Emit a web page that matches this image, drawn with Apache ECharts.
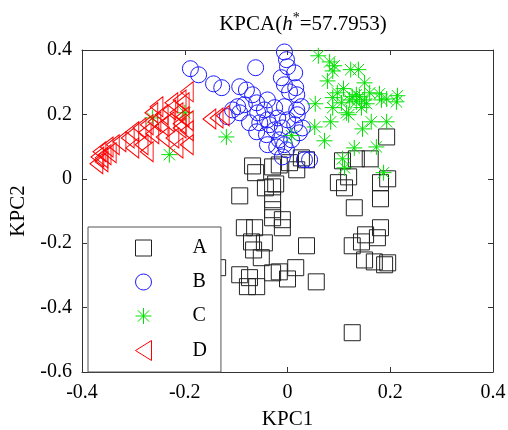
<!DOCTYPE html>
<html>
<head>
<meta charset="utf-8">
<script src="https://cdn.jsdelivr.net/npm/echarts@6/dist/echarts.min.js"></script>
<style>
  html, body { margin: 0; padding: 0; background: #fff; }
  #chart { width: 508px; height: 430px; }
</style>
</head>
<body>
<div id="chart"></div>
<script>
// KPC1 / KPC2 scores
const groupA = [
    [-0.068, 0.040], [-0.062, 0.019], [-0.029, 0.037], [-0.016, 0.043], [0.004, 0.050],
    [0.018, 0.028], [0.027, 0.065], [0.037, 0.059], [-0.093, -0.053], [-0.043, -0.028],
    [-0.029, -0.025], [-0.023, -0.016], [-0.029, -0.065], [-0.029, -0.096], [-0.029, -0.121],
    [-0.010, -0.127], [-0.010, -0.152], [-0.084, -0.152], [-0.064, -0.152], [-0.070, -0.196],
    [-0.066, -0.221], [-0.051, -0.245], [-0.045, -0.199], [0.037, -0.208], [-0.136, -0.276],
    [-0.093, -0.298], [-0.074, -0.307], [-0.060, -0.335], [-0.078, -0.335], [-0.029, -0.292],
    [-0.016, -0.289], [0.000, -0.311], [0.016, -0.276], [0.056, -0.320], [0.193, 0.130],
    [0.107, 0.056], [0.134, 0.062], [0.161, 0.062], [0.099, -0.012], [0.111, -0.028],
    [0.119, 0.006], [0.181, -0.012], [0.195, 0.000], [0.181, -0.062], [0.130, -0.090],
    [0.181, -0.152], [0.152, -0.174], [0.144, -0.196], [0.126, -0.208], [0.175, -0.183],
    [0.150, -0.252], [0.169, -0.258], [0.189, -0.267], [0.195, -0.261], [0.126, -0.478]
];
const groupB = [
    [-0.189, 0.342], [-0.173, 0.323], [-0.062, 0.345], [-0.006, 0.394], [-0.002, 0.370],
    [0.000, 0.348], [-0.144, 0.295], [-0.128, 0.283], [-0.093, 0.286], [-0.080, 0.276],
    [-0.068, 0.261], [-0.012, 0.314], [0.014, 0.329], [-0.006, 0.292], [0.004, 0.270],
    [0.016, 0.283], [-0.097, 0.224], [-0.117, 0.193], [-0.084, 0.230], [-0.060, 0.236],
    [-0.039, 0.245], [-0.025, 0.221], [-0.006, 0.224], [0.018, 0.214], [0.027, 0.224],
    [-0.058, 0.205], [-0.074, 0.174], [-0.054, 0.174], [-0.039, 0.183], [-0.019, 0.189],
    [0.000, 0.183], [0.019, 0.199], [-0.060, 0.146], [-0.041, 0.137], [-0.025, 0.152],
    [-0.010, 0.158], [0.014, 0.168], [0.029, 0.158], [-0.039, 0.106], [-0.021, 0.099],
    [-0.006, 0.106], [0.008, 0.121], [-0.016, 0.121], [-0.107, 0.214], [-0.093, 0.205],
    [0.018, 0.261], [0.023, 0.143], [0.033, 0.059], [0.043, 0.059], [-0.002, 0.090],
    [-0.010, 0.068], [-0.045, 0.214], [-0.035, 0.168]
];
const groupC = [
    [0.060, 0.382], [0.082, 0.363], [0.091, 0.351], [0.088, 0.335], [0.123, 0.339],
    [0.138, 0.339], [0.078, 0.304], [0.150, 0.298], [0.109, 0.280], [0.097, 0.267],
    [0.134, 0.261], [0.160, 0.267], [0.179, 0.264], [0.193, 0.248], [0.214, 0.258],
    [0.212, 0.239], [0.183, 0.245], [0.126, 0.255], [0.134, 0.239], [0.144, 0.221],
    [0.154, 0.233], [0.121, 0.245], [0.105, 0.236], [0.088, 0.252], [0.088, 0.221],
    [0.115, 0.205], [0.054, 0.233], [0.084, 0.177], [0.119, 0.199], [0.193, 0.177],
    [0.163, 0.177], [0.146, 0.155], [0.053, 0.161], [0.072, 0.118], [0.130, 0.096],
    [0.173, 0.099], [0.107, 0.062], [0.111, 0.034], [0.187, 0.019], [0.008, 0.134],
    [-0.263, 0.189], [-0.200, 0.205], [-0.230, 0.075], [-0.119, 0.130], [0.140, 0.255],
    [0.150, 0.245]
];
const groupD = [
    [-0.196, 0.270], [-0.210, 0.245], [-0.226, 0.236], [-0.255, 0.224], [-0.265, 0.205],
    [-0.245, 0.199], [-0.230, 0.214], [-0.216, 0.205], [-0.204, 0.193], [-0.196, 0.180],
    [-0.210, 0.171], [-0.233, 0.177], [-0.245, 0.165], [-0.259, 0.177], [-0.274, 0.168],
    [-0.288, 0.158], [-0.302, 0.146], [-0.278, 0.143], [-0.263, 0.140], [-0.243, 0.130],
    [-0.224, 0.127], [-0.196, 0.106], [-0.216, 0.096], [-0.284, 0.106], [-0.274, 0.084],
    [-0.302, 0.096], [-0.327, 0.115], [-0.340, 0.106], [-0.352, 0.099], [-0.366, 0.084],
    [-0.370, 0.068], [-0.362, 0.065], [-0.356, 0.075], [-0.346, 0.081], [-0.362, 0.053],
    [-0.372, 0.047], [-0.152, 0.186], [-0.138, 0.189], [-0.126, 0.196], [-0.210, 0.158],
    [-0.196, 0.149], [-0.204, 0.236], [-0.311, 0.127]
];
const groupNames = ['A', 'B', 'C', 'D'];
const xTicks = [-0.4, 0.2, 0.4];  // min, step, max
const yTicks = [-0.6, 0.2, 0.4];

const FONT = 'Liberation Serif';
const STAR = 'path://M8,0L8,16M0,8L16,8M2.3,2.3L13.7,13.7M2.3,13.7L13.7,2.3';
const TRI_LEFT = 'path://M0,10L16,0L16,20Z';

const chart = echarts.init(document.getElementById('chart'));

const tickFmt = v => String(+v.toFixed(1));

const axisBase = {
    splitLine: { show: false },
    axisLine: { show: true, onZero: false, lineStyle: { color: '#333', width: 1 } },
    axisTick: { show: true, inside: true, length: 5, lineStyle: { color: '#333' } },
};

const looks = [
    { symbol: 'rect', size: 16, color: '#222' },
    { symbol: 'circle', size: 16, color: '#1a1aff' },
    { symbol: STAR, size: 16, color: '#00e000' },
    { symbol: TRI_LEFT, size: [16, 20], color: '#ff0000' },
];
const datas = [groupA, groupB, groupC, groupD];

const option = {
    animation: false,
    title: {
        text: '{a|KPCA(}{i|h}{s|*}{a|=57.7953)}',
        left: 298,
        textAlign: 'center',
        top: 6,
        textStyle: {
            fontWeight: 'normal',
            rich: {
                a: { fontFamily: FONT, fontSize: 21, fontWeight: 'normal', color: '#000', lineHeight: 26 },
                i: { fontFamily: FONT, fontSize: 21, fontWeight: 'normal', fontStyle: 'italic', color: '#000', lineHeight: 26 },
                s: { fontFamily: FONT, fontSize: 14, fontWeight: 'normal', color: '#000', verticalAlign: 'top', lineHeight: 14 },
            },
        },
    },
    grid: { left: 82, right: 15, top: 50, bottom: 58, containLabel: false, outerBoundsMode: 'none' },
    legend: {
        orient: 'vertical',
        left: 88,
        top: 227,
        padding: [11, 14, 11, 47],
        itemGap: 14,
        itemWidth: 16,
        itemHeight: 20,
        backgroundColor: '#fff',
        borderColor: '#555',
        borderWidth: 1,
        borderRadius: 0,
        textStyle: { fontFamily: FONT, fontSize: 20, color: '#000', padding: [0, 0, 0, 36] },
        data: groupNames.map((n, i) => ({
            name: n,
            icon: looks[i].symbol === 'rect' ? 'path://M0,2L16,2L16,18L0,18Z'
                : looks[i].symbol === 'circle' ? 'path://M8,2A8,8,0,1,1,7.99,2Z'
                : looks[i].symbol === STAR ? 'path://M8,2L8,18M0,10L16,10M2.3,4.3L13.7,15.7M2.3,15.7L13.7,4.3'
                : TRI_LEFT,
            itemStyle: { color: 'transparent', borderColor: looks[i].color, borderWidth: 1 },
        })),
    },
    xAxis: [
        Object.assign({}, axisBase, {
            type: 'value', min: xTicks[0], interval: xTicks[1], max: xTicks[2],
            name: 'KPC1', nameLocation: 'middle', nameGap: 37,
            nameTextStyle: { fontFamily: FONT, fontSize: 21, color: '#000' },
            axisLabel: { fontFamily: FONT, fontSize: 20, color: '#000', margin: 11, formatter: tickFmt },
        }),
        Object.assign({}, axisBase, {
            type: 'value', position: 'top', min: xTicks[0], interval: xTicks[1], max: xTicks[2],
            axisLabel: { show: false },
        }),
    ],
    yAxis: [
        Object.assign({}, axisBase, {
            type: 'value', min: yTicks[0], interval: yTicks[1], max: yTicks[2],
            name: 'KPC2', nameLocation: 'middle', nameGap: 52,
            nameTextStyle: { fontFamily: FONT, fontSize: 21, color: '#000' },
            axisLabel: { fontFamily: FONT, fontSize: 20, color: '#000', margin: 10, formatter: tickFmt },
        }),
        Object.assign({}, axisBase, {
            type: 'value', position: 'right', min: yTicks[0], interval: yTicks[1], max: yTicks[2],
            axisLabel: { show: false },
        }),
    ],
    series: groupNames.map((n, i) => ({
        name: n,
        type: 'scatter',
        data: datas[i],
        symbol: looks[i].symbol,
        symbolSize: looks[i].size,
        symbolKeepAspect: true,
        itemStyle: { color: 'transparent', borderColor: looks[i].color, borderWidth: 1, opacity: 1 },
        emphasis: { disabled: true },
    })),
};

chart.setOption(option);
</script>
</body>
</html>
